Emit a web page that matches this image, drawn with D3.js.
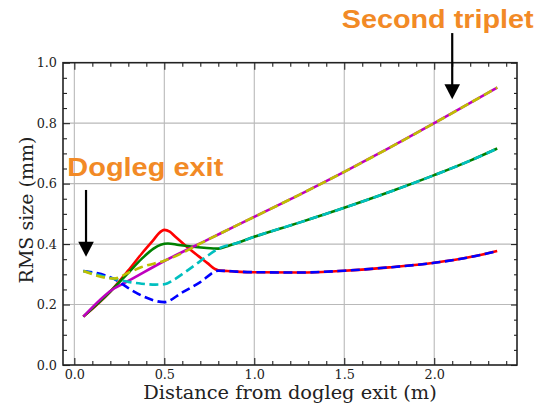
<!DOCTYPE html>
<html>
<head>
<meta charset="utf-8">
<script src="https://cdn.jsdelivr.net/npm/d3@7"></script>
<style>
  html, body { margin: 0; padding: 0; background: #ffffff; }
  svg { display: block; }
  .tick text { font-family: "DejaVu Serif", serif; font-size: 12.8px; fill: #222; }
</style>
</head>
<body>
<svg id="chart" width="541" height="403"></svg>
<script>
// Beam RMS size along the line after the dogleg, three pairs of curves
// (solid / dashed) that start apart and merge further downstream.

// Shared downstream stretch (metres) and the values of each merged pair
const tailX    = [0.9, 1.0, 1.25, 1.5, 1.75, 2.0, 2.2, 2.35];
const lowTail  = [0.309, 0.307, 0.306, 0.312, 0.323, 0.338, 0.357, 0.377];
const midTail  = [0.403, 0.424, 0.471, 0.520, 0.572, 0.628, 0.676, 0.716];
const highTail = [0.461, 0.490, 0.563, 0.639, 0.718, 0.800, 0.867, 0.918];

// Upstream stretch of each curve
const redX     = [0.05, 0.2, 0.3, 0.374, 0.44, 0.47, 0.5, 0.53, 0.56, 0.62, 0.68, 0.74, 0.78, 0.8, 0.85];
const redY     = [0.16, 0.243, 0.313, 0.368, 0.414, 0.436, 0.447, 0.441, 0.425, 0.394, 0.365, 0.337, 0.318, 0.313, 0.311];
const blueX    = [0.05, 0.22, 0.32, 0.38, 0.5, 0.6, 0.7, 0.8, 0.85];
const blueY    = [0.311, 0.285, 0.247, 0.228, 0.208, 0.240, 0.274, 0.312, 0.311];
const greenX   = [0.05, 0.2, 0.3, 0.374, 0.44, 0.48, 0.52, 0.58, 0.65, 0.72, 0.8, 0.85];
const greenY   = [0.16, 0.243, 0.305, 0.351, 0.385, 0.398, 0.402, 0.397, 0.392, 0.388, 0.385, 0.393];
const cyanX    = [0.05, 0.22, 0.3, 0.374, 0.45, 0.5, 0.55, 0.615, 0.68, 0.744, 0.82];
const cyanY    = [0.311, 0.285, 0.275, 0.269, 0.266, 0.267, 0.281, 0.307, 0.335, 0.363, 0.390];
const magentaX = [0.05, 0.21, 0.3, 0.5, 0.75];
const magentaY = [0.16, 0.249, 0.278, 0.344, 0.417];
const oliveX   = [0.05, 0.22, 0.3, 0.374, 0.5, 0.75];
const oliveY   = [0.311, 0.286, 0.305, 0.324, 0.345, 0.417];

// Axis ticks
const xMajor = [0, 0.5, 1.0, 1.5, 2.0];
const yMajor = [0, 0.2, 0.4, 0.6, 0.8, 1.0];
const xMinor = d3.range(0, 25).map(i => i / 10).filter(v => Math.abs(v * 2 - Math.round(v * 2)) > 1e-9);
const yMinor = d3.range(0, 21).map(i => i / 20).filter(v => Math.abs(v * 5 - Math.round(v * 5)) > 1e-9);

// Annotations
const notes = [
  { text: "Dogleg exit",    x: 0.065, tx: 67.3,  ty: 175.7, len: 156, y0: 0.579, y1: 0.358 },
  { text: "Second triplet", x: 2.1,   tx: 341.7, ty: 27.7,  len: 192, y0: 1.098, y1: 0.879 }
];

const join = (xs, ys, tx, ty) => xs.map((v, i) => [v, ys[i]]).concat(tx.map((v, i) => [v, ty[i]]));

const series = [
  { color: "#ff0000", dash: null, pts: join(redX, redY, tailX, lowTail) },
  { color: "#008000", dash: null, pts: join(greenX, greenY, tailX, midTail) },
  { color: "#bf00bf", dash: null, pts: join(magentaX, magentaY, tailX, highTail) },
  { color: "#0000ff", dash: "9,4.5", pts: join(blueX, blueY, tailX, lowTail) },
  { color: "#00bfbf", dash: "9,4.5", pts: join(cyanX, cyanY, tailX, midTail) },
  { color: "#bfbf00", dash: "9,4.5", pts: join(oliveX, oliveY, tailX, highTail) }
];

const plotLeft = 63, plotRight = 517, plotTop = 62.7, plotBottom = 365;
const svg = d3.select("#chart");

const x = d3.scaleLinear().domain([-0.063, 2.46]).range([plotLeft, plotRight]);
const y = d3.scaleLinear().domain([0, 1]).range([plotBottom, plotTop]);

// Grid
const grid = svg.append("g").attr("stroke", "#b9b9b9").attr("stroke-width", 1.1);
grid.selectAll("line.gx").data(xMajor).join("line")
  .attr("x1", d => x(d)).attr("x2", d => x(d)).attr("y1", plotTop).attr("y2", plotBottom);
grid.selectAll("line.gy").data(yMajor.slice(1, -1)).join("line")
  .attr("y1", d => y(d)).attr("y2", d => y(d)).attr("x1", plotLeft).attr("x2", plotRight);

// Curves
const line = d3.line().x(d => x(d[0])).y(d => y(d[1])).curve(d3.curveMonotoneX);
const plot = svg.append("g");
series.forEach(s => {
  plot.append("path")
    .attr("d", line(s.pts))
    .attr("fill", "none")
    .attr("stroke", s.color)
    .attr("stroke-width", 2.6)
    .attr("stroke-linejoin", "round")
    .attr("stroke-dasharray", s.dash);
});

// Axes with inward ticks on all four sides
function styleAxis(g) {
  g.select(".domain").remove();
  g.selectAll(".tick line").attr("stroke", "#222").attr("stroke-width", 1.1);
}
svg.append("g").attr("transform", `translate(0,${plotBottom})`)
  .call(d3.axisBottom(x).tickValues(xMajor).tickSizeInner(-7).tickSizeOuter(0).tickPadding(5).tickFormat(d3.format(".1f")))
  .call(styleAxis);
svg.append("g").attr("transform", `translate(0,${plotBottom})`)
  .call(d3.axisBottom(x).tickValues(xMinor).tickSizeInner(-4).tickSizeOuter(0).tickFormat(""))
  .call(styleAxis);
svg.append("g").attr("transform", `translate(0,${plotTop})`)
  .call(d3.axisTop(x).tickValues(xMajor).tickSizeInner(-7).tickSizeOuter(0).tickFormat(""))
  .call(styleAxis);
svg.append("g").attr("transform", `translate(0,${plotTop})`)
  .call(d3.axisTop(x).tickValues(xMinor).tickSizeInner(-4).tickSizeOuter(0).tickFormat(""))
  .call(styleAxis);
svg.append("g").attr("transform", `translate(${plotLeft},0)`)
  .call(d3.axisLeft(y).tickValues(yMajor).tickSizeInner(-7).tickSizeOuter(0).tickPadding(6).tickFormat(d3.format(".1f")))
  .call(styleAxis);
svg.append("g").attr("transform", `translate(${plotLeft},0)`)
  .call(d3.axisLeft(y).tickValues(yMinor).tickSizeInner(-4).tickSizeOuter(0).tickFormat(""))
  .call(styleAxis);
svg.append("g").attr("transform", `translate(${plotRight},0)`)
  .call(d3.axisRight(y).tickValues(yMajor).tickSizeInner(-6).tickSizeOuter(0).tickFormat(""))
  .call(styleAxis);
svg.append("g").attr("transform", `translate(${plotRight},0)`)
  .call(d3.axisRight(y).tickValues(yMinor).tickSizeInner(-3).tickSizeOuter(0).tickFormat(""))
  .call(styleAxis);

// Frame
svg.append("rect")
  .attr("x", plotLeft).attr("y", plotTop).attr("width", plotRight - plotLeft).attr("height", plotBottom - plotTop)
  .attr("fill", "none").attr("stroke", "#222").attr("stroke-width", 1.6);

// Axis titles
svg.append("text")
  .attr("x", (plotLeft + plotRight) / 2).attr("y", 399)
  .attr("text-anchor", "middle")
  .attr("font-family", "DejaVu Serif, serif").attr("font-size", 19.4).attr("fill", "#222")
  .text("Distance from dogleg exit (m)");
svg.append("text")
  .attr("transform", "translate(32.5,210) rotate(-90)")
  .attr("text-anchor", "middle")
  .attr("font-family", "DejaVu Serif, serif").attr("font-size", 19).attr("fill", "#222")
  .text("RMS size (mm)");

// Annotations: orange labels with black arrows
notes.forEach(n => {
  svg.append("text")
    .attr("x", n.tx).attr("y", n.ty)
    .attr("font-family", "Liberation Sans, Arial, sans-serif")
    .attr("font-weight", "bold").attr("font-size", 25.7)
    .attr("fill", "#f28a26")
    .attr("textLength", n.len).attr("lengthAdjust", "spacingAndGlyphs")
    .text(n.text);
  const ax = x(n.x), ya = y(n.y0), yb = y(n.y1);
  const head = 15;
  svg.append("line")
    .attr("x1", ax).attr("x2", ax).attr("y1", ya).attr("y2", yb - head + 1)
    .attr("stroke", "#000").attr("stroke-width", 2.2);
  svg.append("path")
    .attr("d", `M${ax - 7.8},${yb - head} L${ax + 7.8},${yb - head} L${ax},${yb} Z`)
    .attr("fill", "#000");
});
</script>
</body>
</html>
